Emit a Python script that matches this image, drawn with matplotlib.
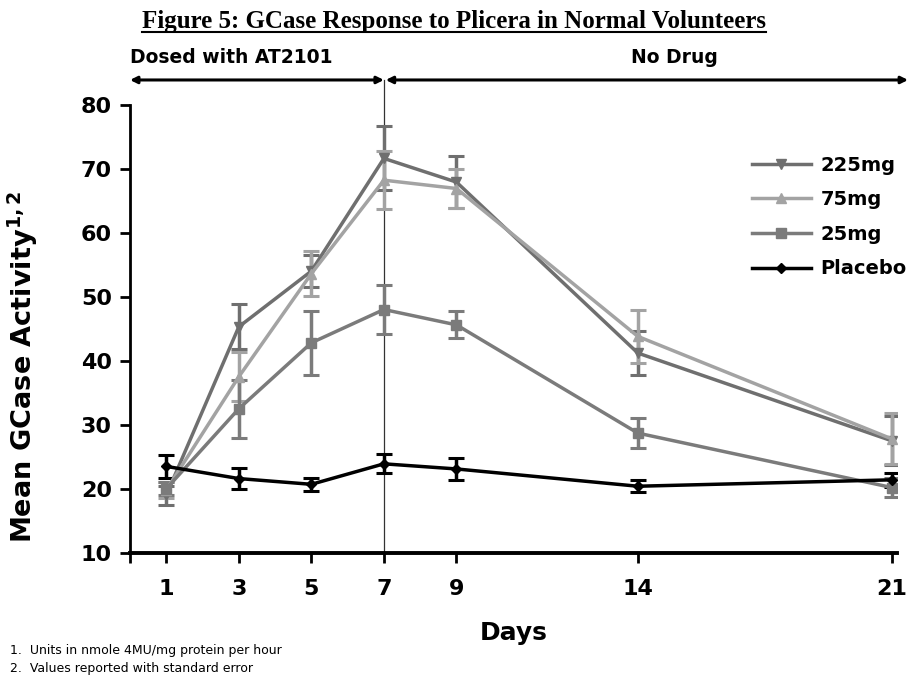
import matplotlib
matplotlib.use("Agg")
import matplotlib.pyplot as plt
from matplotlib.lines import Line2D
import matplotlib.transforms as mtransforms

# data
days = [1, 3, 5, 7, 9, 14, 21]
mg225 = [19.0, 45.3, 54.0, 71.6, 67.9, 41.2, 27.5]
mg225_err = [1.5, 3.5, 2.5, 5.0, 4.0, 3.5, 3.8]
mg75 = [19.8, 37.5, 53.6, 68.2, 66.9, 43.8, 27.8]
mg75_err = [1.2, 3.8, 3.5, 4.5, 3.0, 4.2, 4.0]
mg25 = [20.0, 32.5, 42.8, 48.0, 45.6, 28.7, 20.2]
mg25_err = [1.0, 4.5, 5.0, 3.9, 2.1, 2.3, 1.5]
placebo = [23.5, 21.6, 20.7, 23.9, 23.1, 20.4, 21.4]
placebo_err = [1.8, 1.7, 1.0, 1.5, 1.7, 0.9, 1.1]

series = [
    ("225mg", mg225, mg225_err, "#6f6f6f", "v"),
    ("75mg", mg75, mg75_err, "#a3a3a3", "^"),
    ("25mg", mg25, mg25_err, "#7b7b7b", "s"),
    ("Placebo", placebo, placebo_err, "#000000", "D"),
]

xtick_vals = [0, 1, 3, 5, 7, 9, 14, 21]
xtick_labels = ["", "1", "3", "5", "7", "9", "14", "21"]
ytick_vals = [10, 20, 30, 40, 50, 60, 70, 80]

fig = plt.figure(figsize=(9.09, 6.75), dpi=100)
ax = fig.add_axes([0.143, 0.181, 0.844, 0.664])

handles = []
for name, vals, errs, col, mk in series:
    ms = 5 if mk == "D" else 7
    ax.errorbar(days, vals, yerr=errs, color=col, marker=mk, markersize=ms,
                linewidth=2.5, elinewidth=2.5, capsize=5.5, capthick=2.2, zorder=3)
    handles.append(Line2D([0], [0], color=col, marker=mk, markersize=ms, linewidth=2.5))

ax.set_xlim(0, 21.15)
ax.set_ylim(10, 80)
ax.set_xticks(xtick_vals)
ax.set_xticklabels(xtick_labels)
ax.set_yticks(ytick_vals)
for lab in ax.get_xticklabels() + ax.get_yticklabels():
    lab.set_fontweight("bold")
    lab.set_fontsize(16)
ax.tick_params(axis="both", direction="out", length=7, width=2)
ax.tick_params(axis="x", pad=12)
ax.tick_params(axis="y", pad=6)
ax.spines["top"].set_visible(False)
ax.spines["right"].set_visible(False)
ax.spines["left"].set_linewidth(2)
ax.spines["bottom"].set_linewidth(2.8)

ax.set_xlabel("Days", fontsize=18, fontweight="bold", labelpad=16)
ax.set_ylabel("Mean GCase Activity$^{\\mathbf{1,2}}$", fontsize=19.5, fontweight="bold")
ax.yaxis.set_label_coords(-0.117, 0.415)

leg = ax.legend(handles, [s[0] for s in series], loc="upper right",
                bbox_to_anchor=(1.035, 0.925), frameon=False, handlelength=3.0,
                handletextpad=0.5, labelspacing=0.8, prop={"weight": "bold", "size": 14})

# dosing period line and arrows
trans = mtransforms.blended_transform_factory(ax.transData, ax.transAxes)
ax.plot([7, 7], [0, 1.055], transform=trans, color="#333333", linewidth=0.9,
        clip_on=False, zorder=2)
arrow_y = 1.055
ax.annotate("", xy=(0, arrow_y), xytext=(7, arrow_y), xycoords=trans, textcoords=trans,
            arrowprops=dict(arrowstyle="<|-|>", color="black", lw=2.2,
                            mutation_scale=10, shrinkA=0, shrinkB=0))
ax.annotate("", xy=(7.05, arrow_y), xytext=(21.45, arrow_y), xycoords=trans, textcoords=trans,
            arrowprops=dict(arrowstyle="<|-|>", color="black", lw=2.2,
                            mutation_scale=10, shrinkA=0, shrinkB=0))
ax.text(0.0, 1.085, "Dosed with AT2101", transform=trans, fontsize=13.5,
        fontweight="bold", ha="left", va="bottom")
ax.text(15.0, 1.085, "No Drug", transform=trans, fontsize=13.5,
        fontweight="bold", ha="center", va="bottom")

# title with underline
title = fig.text(0.5, 0.968, "Figure 5: GCase Response to Plicera in Normal Volunteers",
                 family="Liberation Serif", fontweight="bold", fontsize=18,
                 ha="center", va="center")
fig.canvas.draw()
bb = title.get_window_extent().transformed(fig.transFigure.inverted())
fig.add_artist(Line2D([bb.x0, bb.x1], [bb.y0 + 0.002, bb.y0 + 0.002],
                      transform=fig.transFigure, color="black", linewidth=1.5))

# footnotes
fig.text(0.011, 0.037, "1.  Units in nmole 4MU/mg protein per hour", fontsize=9,
         ha="left", va="center")
fig.text(0.011, 0.01, "2.  Values reported with standard error", fontsize=9,
         ha="left", va="center")

fig.savefig("out.png", dpi=100)
